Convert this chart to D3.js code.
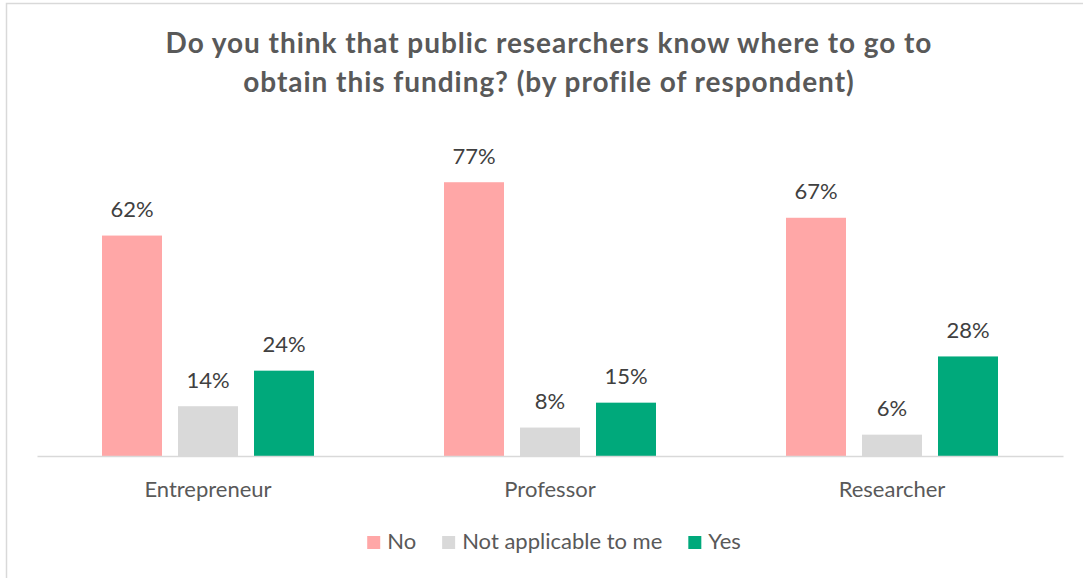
<!DOCTYPE html>
<html>
<head>
<meta charset="utf-8">
<script src="https://cdn.jsdelivr.net/npm/d3@7"></script>
<style>
  html, body { margin: 0; padding: 0; background: #ffffff; }
  svg { display: block; font-family: Lato, "Open Sans", sans-serif; }
</style>
</head>
<body>
<svg id="chart" width="1083" height="578"></svg>
<script>
// Survey answers by profile of respondent (share of answers, %)
const categories = ["Entrepreneur", "Professor", "Researcher"];
const seriesNames = ["No", "Not applicable to me", "Yes"];
const noValues = [62, 77, 67];
const notApplicableValues = [14, 8, 6];
const yesValues = [24, 15, 28];
const titleLines = [
  "Do you think that public researchers know where to go to",
  "obtain this funding? (by profile of respondent)"
];

const seriesValues = [noValues, notApplicableValues, yesValues];
const colors = ["#ffa7a7", "#d9d9d9", "#00a97b"];

const W = 1083, H = 578;
const svg = d3.select("#chart");

// chart area frame (runs off the right and bottom edges)
svg.append("rect")
  .attr("x", 6.5).attr("y", 3.5)
  .attr("width", W + 20).attr("height", H + 20)
  .attr("fill", "#ffffff")
  .attr("stroke", "#d9d9d9").attr("stroke-width", 1.5);

// title
svg.append("text")
  .attr("text-anchor", "middle")
  .attr("fill", "#595959")
  .attr("font-size", 28)
  .attr("font-weight", 700)
  .attr("letter-spacing", 0.95)
  .selectAll("tspan")
  .data(titleLines)
  .join("tspan")
  .attr("x", 549)
  .attr("y", (d, i) => 53 + i * 39)
  .text(d => d);

const plot = { left: 37, right: 1063, top: 136, bottom: 456 };

const x0 = d3.scaleBand()
  .domain(categories)
  .range([plot.left, plot.right])
  .paddingInner(0).paddingOuter(0);

const groupWidth = 212;
const groupOffset = (x0.bandwidth() - groupWidth) / 2;
const x1 = d3.scaleBand()
  .domain(seriesNames)
  .range([groupOffset, groupOffset + groupWidth])
  .paddingInner(16 / 76).paddingOuter(0);

const y = d3.scaleLinear()
  .domain([0, 90])
  .range([plot.bottom, plot.top]);

// flatten into bar records
const bars = [];
categories.forEach((c, ci) => {
  seriesNames.forEach((s, si) => {
    bars.push({ category: c, series: s, si, value: seriesValues[si][ci] });
  });
});

const g = svg.append("g");

g.selectAll("rect.bar")
  .data(bars)
  .join("rect")
  .attr("class", "bar")
  .attr("x", d => x0(d.category) + x1(d.series))
  .attr("y", d => y(d.value))
  .attr("width", x1.bandwidth())
  .attr("height", d => y(0) - y(d.value))
  .attr("fill", d => colors[d.si]);

// value labels
g.selectAll("text.value")
  .data(bars)
  .join("text")
  .attr("class", "value")
  .attr("x", d => x0(d.category) + x1(d.series) + x1.bandwidth() / 2)
  .attr("y", d => y(d.value) - 18.5)
  .attr("text-anchor", "middle")
  .attr("fill", "#404040")
  .attr("font-size", 22)
  .text(d => d.value + "%");

// category axis
const xAxis = d3.axisBottom(x0).tickSize(0).tickPadding(0);
const axisG = svg.append("g")
  .attr("transform", `translate(0,${plot.bottom})`)
  .call(xAxis);
axisG.select(".domain")
  .attr("stroke", "#d9d9d9")
  .attr("stroke-width", 1.5);
axisG.selectAll(".tick text")
  .attr("font-family", "Lato, 'Open Sans', sans-serif")
  .attr("font-size", 22)
  .attr("fill", "#595959")
  .attr("dy", 0)
  .attr("y", 40.5);

// legend
const legend = svg.append("g");
const items = legend.selectAll("g.item")
  .data(seriesNames)
  .join("g")
  .attr("class", "item");
items.append("rect")
  .attr("y", 536)
  .attr("width", 13).attr("height", 13)
  .attr("fill", (d, i) => colors[i]);
items.append("text")
  .attr("x", 20)
  .attr("y", 548.5)
  .attr("font-size", 22)
  .attr("fill", "#595959")
  .text(d => d);

const widths = [];
items.each(function () {
  const tw = d3.select(this).select("text").node().getComputedTextLength();
  widths.push(20 + tw);
});
const gap = 26;
const total = d3.sum(widths) + gap * (widths.length - 1);
let start = 554 - total / 2;
items.attr("transform", (d, i) => {
  const tx = start;
  start += widths[i] + gap;
  return `translate(${tx},0)`;
});
</script>
</body>
</html>
